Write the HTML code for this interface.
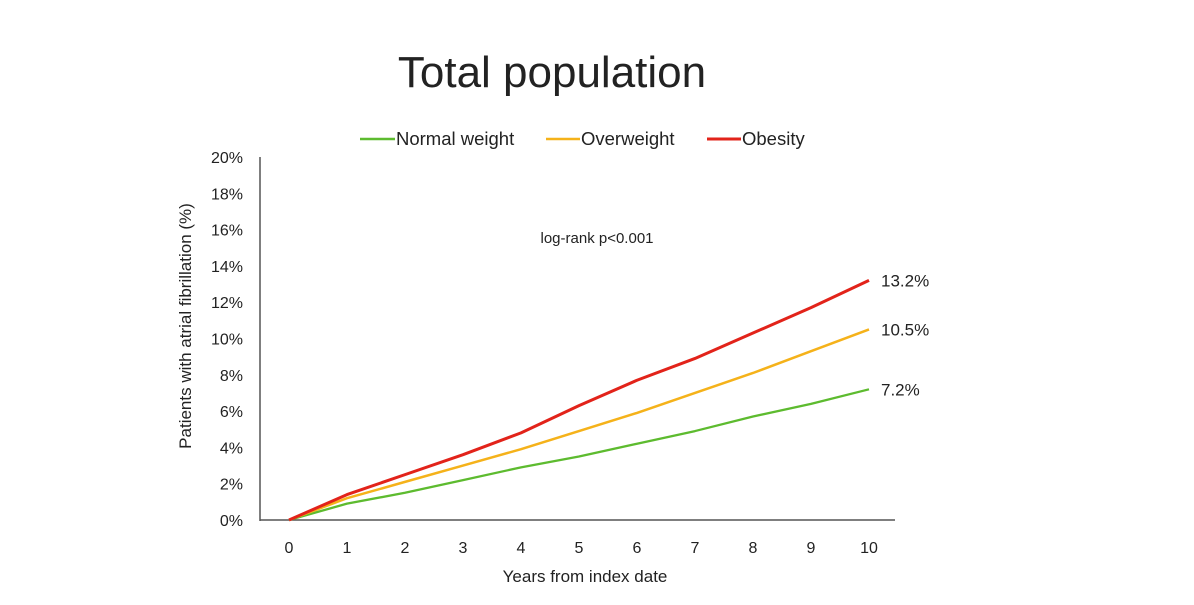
<!DOCTYPE html>
<html><head><meta charset="utf-8"><style>
body{margin:0;background:#fff;font-family:"Liberation Sans",Arial,sans-serif}
svg text{font-family:"Liberation Sans",Arial,sans-serif;fill:#222}
</style></head><body>
<svg width="1194" height="600">
<text x="552" y="87" font-size="44" text-anchor="middle">Total population</text>
<g font-size="18.5">
<g><line x1="360" y1="139" x2="395" y2="139" stroke="#5dbb2f" stroke-width="2.5"/><text x="396" y="145">Normal weight</text></g>
<g><line x1="546" y1="139" x2="580" y2="139" stroke="#f5b21a" stroke-width="2.5"/><text x="581" y="145">Overweight</text></g>
<g><line x1="707" y1="139" x2="741" y2="139" stroke="#e2231a" stroke-width="3"/><text x="742" y="145">Obesity</text></g>
</g>
<text x="597" y="243" font-size="15" text-anchor="middle">log-rank p&lt;0.001</text>
<line x1="260" y1="157" x2="260" y2="521" stroke="#555" stroke-width="1.5"/>
<line x1="260" y1="520" x2="895" y2="520" stroke="#555" stroke-width="1.5"/>
<g id="yt" font-size="16"></g><g id="xt" font-size="16"></g>
<text x="585" y="582" font-size="17" text-anchor="middle">Years from index date</text>
<text transform="translate(191,326) rotate(-90)" font-size="17" text-anchor="middle">Patients with atrial fibrillation (%)</text>
<g id="series"></g>
</svg>
<script>
const years=[0,1,2,3,4,5,6,7,8,9,10];
const normal=[0,0.9,1.5,2.2,2.9,3.5,4.2,4.9,5.7,6.4,7.2];
const overweight=[0,1.2,2.1,3.0,3.9,4.9,5.9,7.0,8.1,9.3,10.5];
const obesity=[0,1.4,2.5,3.6,4.8,6.3,7.7,8.9,10.3,11.7,13.2];
const yTicks=[0,2,4,6,8,10,12,14,16,18,20];
const endLabels=["7.2%","10.5%","13.2%"];
const NS="http://www.w3.org/2000/svg";
const xs=v=>289+v*58, ys=v=>520-v*18.15;
function mk(t,a,p){const e=document.createElementNS(NS,t);for(const k in a)e.setAttribute(k,a[k]);p.appendChild(e);return e;}
const yt=document.getElementById('yt');
yTicks.forEach(v=>{const t=mk('text',{x:243,y:ys(v)+6,'text-anchor':'end'},yt);t.textContent=v+'%';

});
const xt=document.getElementById('xt');
years.forEach(v=>{const t=mk('text',{x:xs(v),y:553,'text-anchor':'middle'},xt);t.textContent=v;

});
const sg=document.getElementById('series');
[[normal,'#5dbb2f',2.3,'line-normal-weight'],[overweight,'#f5b21a',2.5,'line-overweight'],[obesity,'#e2231a',3,'line-obesity']].forEach((s,i)=>{
const p=mk('polyline',{points:s[0].map((v,j)=>xs(years[j])+','+ys(v)).join(' '),fill:'none',stroke:s[1],'stroke-width':s[2],'stroke-linejoin':'round'},sg);


const last=s[0][s[0].length-1];
const t=mk('text',{x:881,y:ys(last)+6,'font-size':17},sg);t.textContent=endLabels[i];


});
</script>
</body></html>
